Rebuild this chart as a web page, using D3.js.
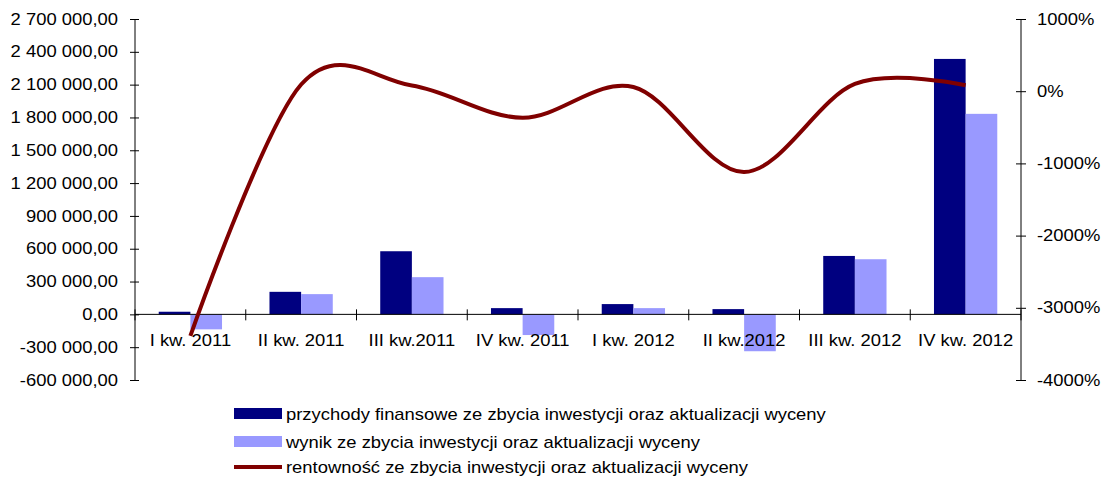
<!DOCTYPE html>
<html><head><meta charset="utf-8">
<script src="https://cdn.jsdelivr.net/npm/d3@7"></script>
<style>
html,body{margin:0;padding:0;background:#fff;}
text{font-family:"Liberation Sans",Arial,sans-serif;font-size:16px;fill:#000;}
</style></head>
<body>
<svg id="c" width="1101" height="477"></svg>
<script>
const categories = ["I kw. 2011","II kw. 2011","III kw.2011","IV kw. 2011","I kw. 2012","II kw.2012","III kw. 2012","IV kw. 2012"];
const przychody = [24000, 206000, 577000, 57000, 94000, 48000, 534000, 2335000];
const wynik = [-137000, 185000, 340000, -189000, 57000, -337000, 504000, 1833000];
const rentownosc = [-3390, 93, 79, -368, 58, -1120, 100, 83];
const leftTicks = [-600000,-300000,0,300000,600000,900000,1200000,1500000,1800000,2100000,2400000,2700000];
const rightTicks = [-4000,-3000,-2000,-1000,0,1000];
const seriesNames = ["przychody finansowe ze zbycia inwestycji oraz aktualizacji wyceny","wynik ze zbycia inwestycji oraz aktualizacji wyceny","rentowność ze zbycia inwestycji oraz aktualizacji wyceny"];
const colors = ["#000080","#9999FF","#800000"];

const SX = 1.15;
const FS = "16px";
const FF = "Liberation Sans, Arial, sans-serif";
const L = 135, R = 1021, T = 19, B = 380;
const svg = d3.select("#c");

const x = d3.scaleBand().domain(categories).range([L,R]).padding(0);
const y = d3.scaleLinear().domain([-600000,2700000]).range([B,T]);
const y2 = d3.scaleLinear().domain([-4000,1000]).range([B,T]);
const bw = x.bandwidth()/3.5;

const loc = d3.formatLocale({decimal:",",thousands:"\u00a0",grouping:[3],currency:["",""],minus:"-"});
const fmt = loc.format(",.2f");

// bars
const g = svg.append("g");
categories.forEach((c,i)=>{
  const cx = x(c)+x.bandwidth()/2;
  g.append("rect").attr("x",cx-bw).attr("width",bw)
    .attr("y",Math.min(y(przychody[i]),y(0))).attr("height",Math.abs(y(przychody[i])-y(0)))
    .attr("fill",colors[0]);
  g.append("rect").attr("x",cx).attr("width",bw)
    .attr("y",Math.min(y(wynik[i]),y(0))).attr("height",Math.abs(y(wynik[i])-y(0)))
    .attr("fill",colors[1]);
});

// left axis
const ax = svg.append("g").attr("transform",`translate(${L},0)`)
  .call(d3.axisLeft(y).tickValues(leftTicks).tickFormat(fmt).tickSize(4));
ax.selectAll(".tick line").attr("x1",-5).attr("x2",4);
ax.selectAll("text").attr("x",-17/SX).attr("transform",`scale(${SX},1)`).style("font-size",FS).style("font-family",FF).attr("fill","#000");
ax.select(".domain").attr("d",`M0,${T}V${B}`);

// right axis
const ax2 = svg.append("g").attr("transform",`translate(${R},0)`)
  .call(d3.axisRight(y2).tickValues(rightTicks).tickFormat(d=>d+"%").tickSize(4));
ax2.selectAll(".tick line").attr("x1",-5).attr("x2",5);
ax2.selectAll("text").attr("x",16/SX).attr("transform",`scale(${SX},1)`).style("font-size",FS).style("font-family",FF).attr("fill","#000");
ax2.select(".domain").attr("d",`M0,${T}V${B}`);

// x axis at zero
const xa = svg.append("g").attr("transform",`translate(0,${y(0)})`)
  .call(d3.axisBottom(x).tickSize(0).tickPadding(0));
xa.select(".domain").attr("d",`M${L},0H${R}`);
xa.selectAll("text").attr("y",0).attr("dy",0).attr("transform",`translate(0,32) scale(${SX},1)`)
  .attr("x",0).style("font-size",FS).style("font-family",FF).attr("fill","#000");
const bounds = d3.range(categories.length+1).map(i=>L + i*x.bandwidth());
xa.selectAll(".bnd").data(bounds).join("line").attr("class","bnd")
  .attr("x1",d=>d).attr("x2",d=>d).attr("y1",-5).attr("y2",6).attr("stroke","#000");

// line
const line = d3.line().x((d,i)=>x(categories[i])+x.bandwidth()/2).y(d=>y2(d)).curve(d3.curveCardinal.tension(0));
svg.append("path").datum(rentownosc).attr("d",line).attr("fill","none").attr("stroke",colors[2]).attr("stroke-width",4);

// legend
const lg = svg.append("g");
const rows = [420,448,473];
seriesNames.forEach((n,i)=>{
  if(i<2){
    lg.append("rect").attr("x",234).attr("y",rows[i]-12).attr("width",48).attr("height",11).attr("fill",colors[i]);
  } else {
    lg.append("rect").attr("x",234).attr("y",rows[i]-8).attr("width",48).attr("height",4).attr("fill",colors[i]);
  }
  lg.append("text").attr("transform",`translate(286,${rows[i]}) scale(${SX},1)`).text(n);
});
</script>
</body></html>
